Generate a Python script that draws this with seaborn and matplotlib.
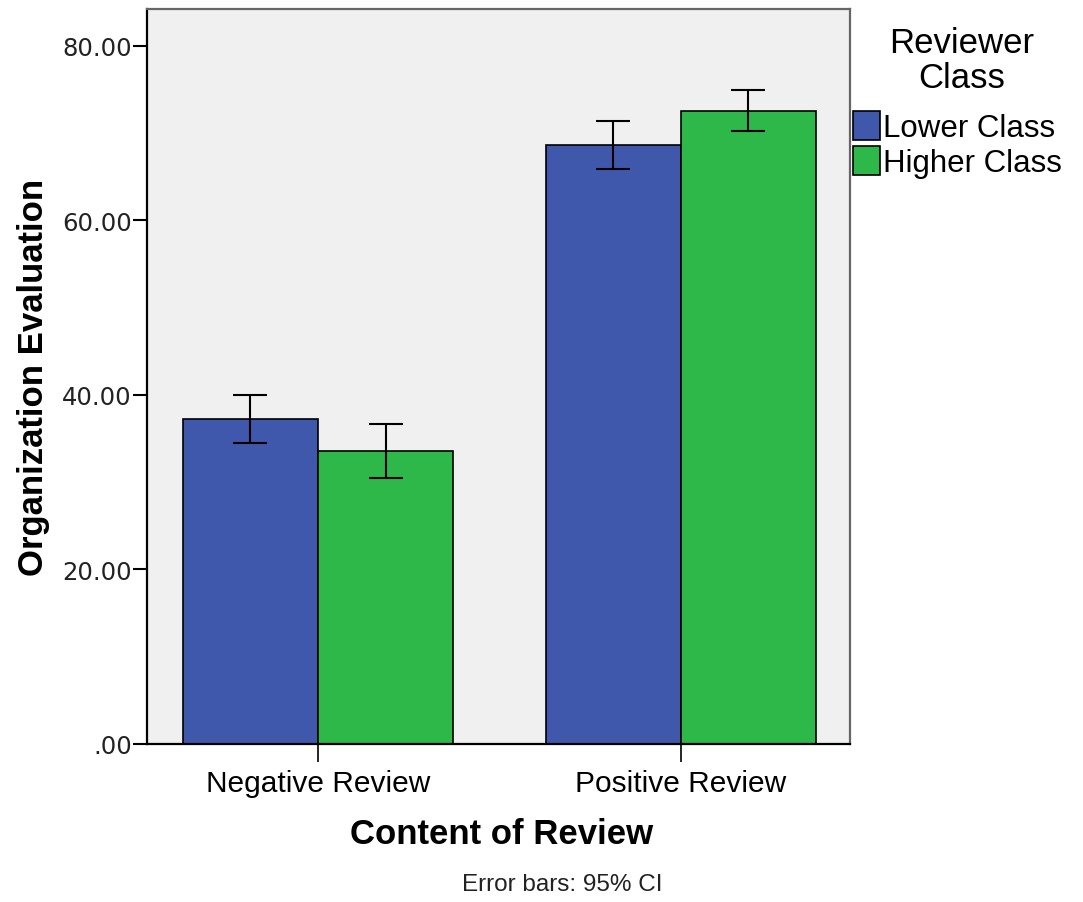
import pandas as pd
import matplotlib.pyplot as plt
import matplotlib.patches as mpatches
import seaborn as sns

# Values
categories = ["Negative Review", "Positive Review"]
classes = ["Lower Class", "Higher Class"]
lower_means = [37.2, 68.6]
higher_means = [33.6, 72.6]
lower_ci = [2.75, 2.75]
higher_ci = [3.1, 2.35]
y_ticks = [0, 20, 40, 60, 80]
y_tick_labels = [".00", "20.00", "40.00", "60.00", "80.00"]

colors = {"Lower Class": "#3F58AB", "Higher Class": "#2FB84A"}

df = pd.DataFrame({
    "Content": categories * 2,
    "Reviewer Class": [classes[0]] * 2 + [classes[1]] * 2,
    "Evaluation": lower_means + higher_means,
    "CI": lower_ci + higher_ci,
})

sns.set_theme(style="white")
plt.rcParams['font.family'] = ['Liberation Sans', 'DejaVu Sans']
plt.rcParams['text.color'] = 'black'
plt.rcParams['axes.labelcolor'] = 'black'
plt.rcParams['xtick.color'] = 'black'
plt.rcParams['ytick.color'] = 'black'

fig = plt.figure(figsize=(10.83, 9.03), dpi=100)
ax = fig.add_axes([147 / 1083, 1 - 745 / 903, (850 - 147) / 1083, (745 - 10) / 903])
ax.set_facecolor("#F0F0F0")

sns.barplot(data=df, x="Content", y="Evaluation", hue="Reviewer Class",
            order=categories, hue_order=classes, palette=colors,
            errorbar=None, width=0.745, edgecolor="black", linewidth=1.2,
            saturation=1, legend=False, ax=ax)

# 95% CI error bars, placed on the bar centres seaborn computed
for cont, cls in zip(ax.containers, classes):
    sub = df[df["Reviewer Class"] == cls].set_index("Content").loc[categories]
    xs = [b.get_x() + b.get_width() / 2 for b in cont]
    ax.errorbar(xs, sub["Evaluation"], yerr=sub["CI"], fmt="none",
                ecolor="black", elinewidth=1.5, capsize=12, capthick=1.5, zorder=5)

ax.set_xlim(-0.471, 1.466)
ax.set_ylim(0, 84.24)
ax.set_yticks(y_ticks)
ax.set_yticklabels(y_tick_labels, family="DejaVu Sans", fontsize=17.5, color="#222222")
ax.tick_params(axis="y", left=True, length=10, width=1.5, pad=1)
ax.tick_params(axis="x", bottom=True, length=13, width=1.2, pad=5, labelsize=21.5)

for side in ["left", "bottom"]:
    ax.spines[side].set_color("black")
    ax.spines[side].set_linewidth(1.6)
for side in ["top", "right"]:
    ax.spines[side].set_color("#666666")
    ax.spines[side].set_linewidth(1.6)

ax.set_xlabel("Content of Review", fontsize=25, fontweight="bold")
ax.set_ylabel("Organization Evaluation", fontsize=25, fontweight="bold")
ax.xaxis.set_label_coords(0.5 + (501 - 498) / 703, -0.099)
ax.yaxis.set_label_coords(-0.138, (745 - 377) / 735)

# legend title drawn separately so the gap above the entries matches
fig.text(962 / 1083, 1 - 61 / 903, "Reviewer\nClass", ha="center", va="center",
         fontsize=25, multialignment="center", linespacing=1.1)
handles = [mpatches.Patch(facecolor=colors[c], edgecolor="black", linewidth=1.2) for c in classes]
fig.legend(handles, classes, loc="upper left",
           bbox_to_anchor=(853 / 1083, 1 - 112 / 903), frameon=False,
           fontsize=22.5, handlelength=0.85, handleheight=1.05,
           handletextpad=0.1, labelspacing=0.1, borderpad=0, borderaxespad=0)

fig.text(562 / 1083, 1 - 885 / 903, "Error bars: 95% CI", ha="center", va="center",
         fontsize=17.5, color="#222222")

fig.savefig("out.png", dpi=100)
